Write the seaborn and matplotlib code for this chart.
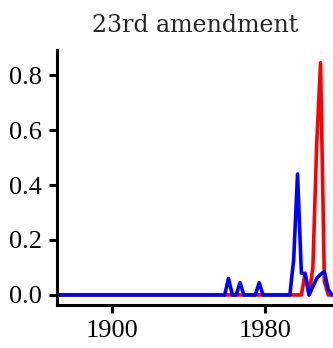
# 23rd amendment: share of mentions over time (two series)
import numpy as np
import pandas as pd
import matplotlib
matplotlib.use('Agg')
import matplotlib.pyplot as plt
import seaborn as sns

# x grid: every other year (odd years)
years = list(range(1871, 2016, 2))

# values, one per year above
red_values = [
    0, 0, 0, 0, 0, 0, 0, 0, 0, 0,
    0, 0, 0, 0, 0, 0, 0, 0, 0, 0,
    0, 0, 0, 0, 0, 0, 0, 0, 0, 0,
    0, 0, 0, 0, 0, 0, 0, 0, 0, 0,
    0, 0, 0, 0, 0, 0, 0, 0, 0, 0,
    0, 0, 0, 0, 0, 0, 0, 0, 0, 0,
    0, 0, 0, 0, 0, 0.08, 0, 0.1, 0.55, 0.845,
    0.05, 0, 0,
]
blue_values = [
    0, 0, 0, 0, 0, 0, 0, 0, 0, 0,
    0, 0, 0, 0, 0, 0, 0, 0, 0, 0,
    0, 0, 0, 0, 0, 0, 0, 0, 0, 0,
    0, 0, 0, 0, 0, 0, 0, 0, 0, 0,
    0, 0, 0, 0, 0, 0.06, 0, 0, 0.045, 0,
    0, 0, 0, 0.045, 0, 0, 0, 0, 0, 0,
    0, 0, 0.13, 0.44, 0.08, 0.075, 0, 0.03, 0.06, 0.075,
    0.085, 0.02, 0,
]
series_names = ['series 1', 'series 2']
series_colors = ['#ff0000', '#0000ff']
x_ticks = [1900, 1980]
y_ticks = [0.0, 0.2, 0.4, 0.6, 0.8]

df = pd.DataFrame({
    'year': years * 2,
    'value': red_values + blue_values,
    'series': [series_names[0]] * len(years) + [series_names[1]] * len(years),
})

sns.set_style('ticks')
plt.rcParams['font.family'] = ['Liberation Serif', 'DejaVu Serif']

fig = plt.figure(figsize=(3.33, 3.48), dpi=100)
ax = fig.add_axes([0.171, 0.124, 0.829, 0.732])

sns.lineplot(data=df, x='year', y='value', hue='series', hue_order=series_names,
             palette=series_colors, linewidth=2.6, legend=False, ax=ax)

ax.set_xlim(1871.5, 2015.5)
ax.set_ylim(-0.036, 0.891)
ax.set_xticks(x_ticks)
ax.set_yticks(y_ticks)
ax.set_yticklabels([f'{v:.1f}' for v in y_ticks])
ax.set_xlabel('')
ax.set_ylabel('')
ax.tick_params(labelsize=19, length=6, width=2.2, pad=5, colors='black')
for side in ['left', 'bottom']:
    ax.spines[side].set_linewidth(2.2)
    ax.spines[side].set_color('black')
sns.despine(ax=ax)

ax.set_title('23rd amendment', fontsize=17, family='DejaVu Serif',
             fontweight='light', pad=13)

fig.savefig('out.png', dpi=100)
